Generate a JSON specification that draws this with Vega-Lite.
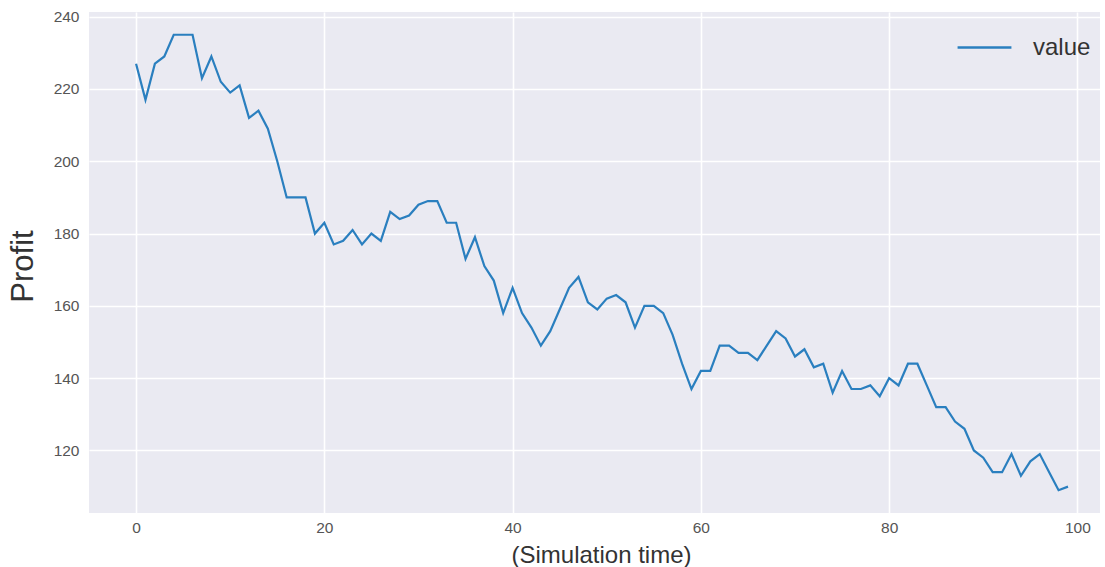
{
  "$schema": "https://vega.github.io/schema/vega-lite/v6.json",
  "autosize": {"type": "none"},
  "width": 1011,
  "height": 501,
  "padding": {"left": 89, "top": 12, "right": 5, "bottom": 54},
  "background": "#ffffff",
  "config": {
    "view": {"fill": "#EAEAF2", "stroke": null},
    "font": "Liberation Sans"
  },
  "data": {
    "values": [
      {"t": 0, "v": 227, "s": "value"}, {"t": 1, "v": 217, "s": "value"}, {"t": 2, "v": 227, "s": "value"},
      {"t": 3, "v": 229, "s": "value"}, {"t": 4, "v": 235, "s": "value"}, {"t": 5, "v": 235, "s": "value"},
      {"t": 6, "v": 235, "s": "value"}, {"t": 7, "v": 223, "s": "value"}, {"t": 8, "v": 229, "s": "value"},
      {"t": 9, "v": 222, "s": "value"}, {"t": 10, "v": 219, "s": "value"}, {"t": 11, "v": 221, "s": "value"},
      {"t": 12, "v": 212, "s": "value"}, {"t": 13, "v": 214, "s": "value"}, {"t": 14, "v": 209, "s": "value"},
      {"t": 15, "v": 200, "s": "value"}, {"t": 16, "v": 190, "s": "value"}, {"t": 17, "v": 190, "s": "value"},
      {"t": 18, "v": 190, "s": "value"}, {"t": 19, "v": 180, "s": "value"}, {"t": 20, "v": 183, "s": "value"},
      {"t": 21, "v": 177, "s": "value"}, {"t": 22, "v": 178, "s": "value"}, {"t": 23, "v": 181, "s": "value"},
      {"t": 24, "v": 177, "s": "value"}, {"t": 25, "v": 180, "s": "value"}, {"t": 26, "v": 178, "s": "value"},
      {"t": 27, "v": 186, "s": "value"}, {"t": 28, "v": 184, "s": "value"}, {"t": 29, "v": 185, "s": "value"},
      {"t": 30, "v": 188, "s": "value"}, {"t": 31, "v": 189, "s": "value"}, {"t": 32, "v": 189, "s": "value"},
      {"t": 33, "v": 183, "s": "value"}, {"t": 34, "v": 183, "s": "value"}, {"t": 35, "v": 173, "s": "value"},
      {"t": 36, "v": 179, "s": "value"}, {"t": 37, "v": 171, "s": "value"}, {"t": 38, "v": 167, "s": "value"},
      {"t": 39, "v": 158, "s": "value"}, {"t": 40, "v": 165, "s": "value"}, {"t": 41, "v": 158, "s": "value"},
      {"t": 42, "v": 154, "s": "value"}, {"t": 43, "v": 149, "s": "value"}, {"t": 44, "v": 153, "s": "value"},
      {"t": 45, "v": 159, "s": "value"}, {"t": 46, "v": 165, "s": "value"}, {"t": 47, "v": 168, "s": "value"},
      {"t": 48, "v": 161, "s": "value"}, {"t": 49, "v": 159, "s": "value"}, {"t": 50, "v": 162, "s": "value"},
      {"t": 51, "v": 163, "s": "value"}, {"t": 52, "v": 161, "s": "value"}, {"t": 53, "v": 154, "s": "value"},
      {"t": 54, "v": 160, "s": "value"}, {"t": 55, "v": 160, "s": "value"}, {"t": 56, "v": 158, "s": "value"},
      {"t": 57, "v": 152, "s": "value"}, {"t": 58, "v": 144, "s": "value"}, {"t": 59, "v": 137, "s": "value"},
      {"t": 60, "v": 142, "s": "value"}, {"t": 61, "v": 142, "s": "value"}, {"t": 62, "v": 149, "s": "value"},
      {"t": 63, "v": 149, "s": "value"}, {"t": 64, "v": 147, "s": "value"}, {"t": 65, "v": 147, "s": "value"},
      {"t": 66, "v": 145, "s": "value"}, {"t": 67, "v": 149, "s": "value"}, {"t": 68, "v": 153, "s": "value"},
      {"t": 69, "v": 151, "s": "value"}, {"t": 70, "v": 146, "s": "value"}, {"t": 71, "v": 148, "s": "value"},
      {"t": 72, "v": 143, "s": "value"}, {"t": 73, "v": 144, "s": "value"}, {"t": 74, "v": 136, "s": "value"},
      {"t": 75, "v": 142, "s": "value"}, {"t": 76, "v": 137, "s": "value"}, {"t": 77, "v": 137, "s": "value"},
      {"t": 78, "v": 138, "s": "value"}, {"t": 79, "v": 135, "s": "value"}, {"t": 80, "v": 140, "s": "value"},
      {"t": 81, "v": 138, "s": "value"}, {"t": 82, "v": 144, "s": "value"}, {"t": 83, "v": 144, "s": "value"},
      {"t": 84, "v": 138, "s": "value"}, {"t": 85, "v": 132, "s": "value"}, {"t": 86, "v": 132, "s": "value"},
      {"t": 87, "v": 128, "s": "value"}, {"t": 88, "v": 126, "s": "value"}, {"t": 89, "v": 120, "s": "value"},
      {"t": 90, "v": 118, "s": "value"}, {"t": 91, "v": 114, "s": "value"}, {"t": 92, "v": 114, "s": "value"},
      {"t": 93, "v": 119, "s": "value"}, {"t": 94, "v": 113, "s": "value"}, {"t": 95, "v": 117, "s": "value"},
      {"t": 96, "v": 119, "s": "value"}, {"t": 97, "v": 114, "s": "value"}, {"t": 98, "v": 109, "s": "value"},
      {"t": 99, "v": 110, "s": "value"}
    ]
  },
  "mark": {"type": "line", "strokeWidth": 2.2, "clip": true},
  "encoding": {
    "x": {
      "field": "t", "type": "quantitative",
      "scale": {"domain": [-5, 102.4], "nice": false, "zero": false},
      "axis": {
        "values": [0, 20, 40, 60, 80, 100],
        "title": "(Simulation time)",
        "titleFontSize": 24, "titleFontWeight": "normal", "titleColor": "#333333",
        "titleX": 512, "titleY": 42, "titleAlign": "center", "titleBaseline": "middle",
        "labelFontSize": 15.5, "labelColor": "#555555", "labelPadding": 7,
        "domain": false, "ticks": false,
        "grid": true, "gridColor": "#ffffff", "gridWidth": 1.6, "gridOpacity": 1
      }
    },
    "y": {
      "field": "v", "type": "quantitative",
      "scale": {"domain": [102.7, 241.3], "nice": false, "zero": false},
      "axis": {
        "values": [120, 140, 160, 180, 200, 220, 240],
        "title": "Profit",
        "titleFontSize": 31, "titleFontWeight": "normal", "titleColor": "#333333",
        "titleX": -66, "titleY": 254, "titleAngle": -90, "titleAlign": "center", "titleBaseline": "middle",
        "labelFontSize": 15.5, "labelColor": "#555555", "labelPadding": 10,
        "domain": false, "ticks": false,
        "grid": true, "gridColor": "#ffffff", "gridWidth": 1.6, "gridOpacity": 1
      }
    },
    "color": {
      "field": "s", "type": "nominal",
      "scale": {"range": ["#2a7fbf"]},
      "legend": {
        "title": null, "orient": "none", "legendX": 867, "legendY": 7,
        "symbolType": "stroke", "symbolSize": 2900, "symbolStrokeWidth": 2.5,
        "labelFontSize": 24, "labelColor": "#333333", "labelOffset": 20,
        "padding": 0
      }
    }
  }
}
